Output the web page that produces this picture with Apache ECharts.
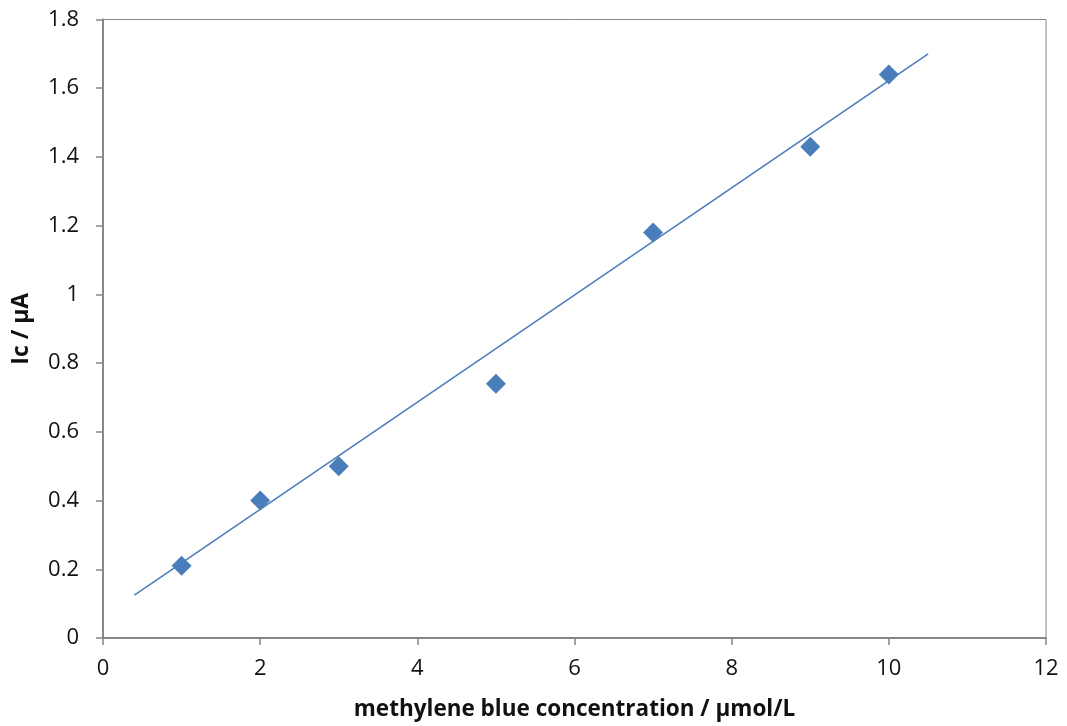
<!DOCTYPE html>
<html>
<head>
<meta charset="utf-8">
<script src="https://cdn.jsdelivr.net/npm/echarts@6/dist/echarts.min.js"></script>
<style>
  html, body { margin: 0; padding: 0; background: #fff; }
  #chart { width: 1067px; height: 726px; }
</style>
</head>
<body>
<div id="chart"></div>
<script>
// Measured concentrations (µmol/L) and cathodic peak currents (µA)
const concentration = [1, 2, 3, 5, 7, 9, 10];
const current = [0.21, 0.40, 0.50, 0.74, 1.18, 1.43, 1.64];

// Linear trend line end points
const trendX = [0.4, 10.5];
const trendY = [0.125, 1.70];

const xTitle = 'methylene blue concentration / µmol/L';
const yTitle = 'Ic / µA';

const blue = '#4a7ebb';
const axisGrey = '#868686';
const fontFamily = '"Open Sans", "Liberation Sans", sans-serif';

const chart = echarts.init(document.getElementById('chart'), null, { renderer: 'canvas' });

chart.setOption({
  animation: false,
  backgroundColor: '#ffffff',
  grid: {
    left: 103, right: 21, top: 19.5, bottom: 87,
    show: true, borderColor: axisGrey, borderWidth: 1
  },
  xAxis: {
    type: 'value',
    min: 0, max: 12, interval: 2,
    name: xTitle,
    nameLocation: 'middle',
    nameGap: 60,
    nameTextStyle: { fontFamily, fontSize: 22.5, fontWeight: 'bold', color: '#111' },
    axisLine: { show: true, onZero: false, lineStyle: { color: axisGrey, width: 2 } },
    axisTick: { show: true, length: 7, inside: false, lineStyle: { color: axisGrey, width: 1.5 } },
    axisLabel: { fontFamily, fontSize: 22, color: '#111', margin: 20 },
    splitLine: { show: false }
  },
  yAxis: {
    type: 'value',
    min: 0, max: 1.8, interval: 0.2,
    name: yTitle,
    nameLocation: 'middle',
    nameGap: 70,
    nameRotate: 90,
    nameTextStyle: { fontFamily, fontSize: 23, fontWeight: 'bold', color: '#111' },
    axisLine: { show: true, onZero: false, lineStyle: { color: axisGrey, width: 2 } },
    axisTick: { show: true, length: 7, inside: false, lineStyle: { color: axisGrey, width: 1.5 } },
    axisLabel: { fontFamily, fontSize: 22, color: '#111', margin: 24 },
    splitLine: { show: false }
  },
  series: [
    {
      name: 'trend',
      type: 'line',
      data: trendX.map((x, i) => [x, trendY[i]]),
      showSymbol: false,
      symbol: 'none',
      lineStyle: { color: blue, width: 1.6 },
      z: 2
    },
    {
      name: 'Ic',
      type: 'scatter',
      data: concentration.map((x, i) => [x, current[i]]),
      symbol: 'diamond',
      symbolSize: 20,
      itemStyle: { color: blue, opacity: 1 },
      z: 3
    }
  ]
});
</script>
</body>
</html>
